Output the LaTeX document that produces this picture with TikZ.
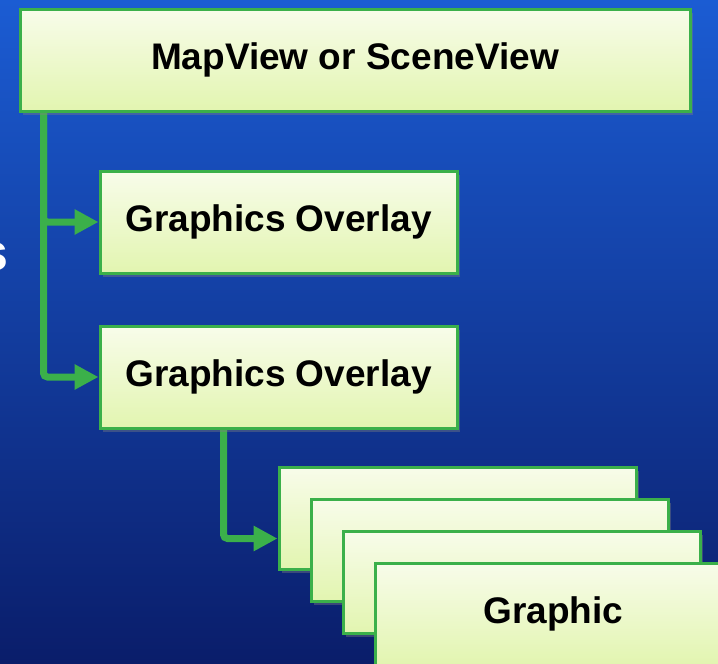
\documentclass[tikz,border=0pt]{standalone}
\usepackage{fontspec}
\setmainfont{Liberation Sans}
\usetikzlibrary{arrows.meta,shadows}
\definecolor{bgtop}{HTML}{1B5CD3}
\definecolor{bgmid}{HTML}{0F3CA2}
\definecolor{bgbot}{HTML}{0A1D6A}
\definecolor{boxtop}{HTML}{F8FCEA}
\definecolor{boxbot}{HTML}{E2F5B0}
\definecolor{edge}{HTML}{3BB04A}
\pgfdeclarelayer{backdrop}
\pgfdeclarelayer{links}
\pgfsetlayers{backdrop,links,main}

\begin{document}
\begin{tikzpicture}[x=1pt,y=-1pt,
  card/.style={draw=edge, line width=3pt, top color=boxtop, bottom color=boxbot,
    anchor=north west, inner sep=0pt, minimum width=357pt, minimum height=102pt,
    font=\bfseries\fontsize{37}{44}\selectfont,
    drop shadow={shadow xshift=3pt, shadow yshift=-4pt, opacity=0.4}},
  conn/.style={draw=edge, line width=7pt, rounded corners=4pt,
    -{Triangle[length=24pt,width=24pt]}},
  cutlabel/.style={text=white, inner sep=0pt, font=\bfseries\fontsize{52}{60}\selectfont}
]
\useasboundingbox (0,0) rectangle (718,664);
\begin{pgfonlayer}{backdrop}
  \shade[top color=bgtop, middle color=bgmid, bottom color=bgbot] (0,0) rectangle (718,664);
\end{pgfonlayer}

% title fragment at the left edge
\node[cutlabel, anchor=base east] (frag) at (8.5,270) {s};

% hierarchy boxes
\node[card, minimum width=670pt] (view) at (18.5,7.5) {MapView or SceneView};
\node[card] (ovA) at (98.5,169.5) {Graphics Overlay};
\node[card] (ovB) at (98.5,324.5) {Graphics Overlay};

% stack of graphics
\node[card] (gA) at (277.5,465.5) {};
\node[card] (gB) at (309.5,497.5) {};
\node[card] (gC) at (341.5,529.5) {};
\node[card] (gD) at (373.5,561.5) {Graphic};

% connectors, drawn beneath the boxes
\begin{pgfonlayer}{links}
  \draw[conn] ([xshift=25pt]view.south west) |- (ovA.west);
  \draw[conn] ([xshift=25pt]view.south west) |- (ovB.west);
  \draw[conn] ([xshift=125pt]ovB.south west) |- ([yshift=-20.5pt]gA.west);
\end{pgfonlayer}
\end{tikzpicture}
\end{document}
